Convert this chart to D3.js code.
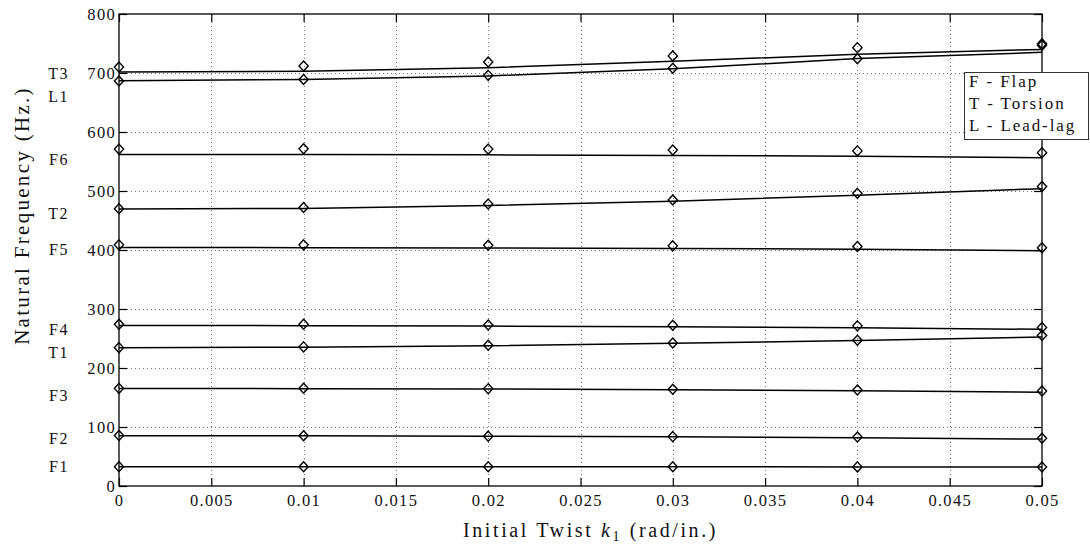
<!DOCTYPE html>
<html>
<head>
<meta charset="utf-8">
<script src="https://cdn.jsdelivr.net/npm/d3@7"></script>
<style>
  body { margin: 0; background: #fff; }
  svg text { font-family: "Liberation Serif", "DejaVu Serif", serif; fill: #111; }
</style>
</head>
<body>
<svg id="chart" width="1090" height="546"></svg>
<script>
// Initial twist values (rad/in.)
const twist = [0, 0.01, 0.02, 0.03, 0.04, 0.05];

// Axis ticks
const xTicks = [0, 0.005, 0.01, 0.015, 0.02, 0.025, 0.03, 0.035, 0.04, 0.045, 0.05];
const xTickLabels = ["0", "0.005", "0.01", "0.015", "0.02", "0.025", "0.03", "0.035", "0.04", "0.045", "0.05"];
const yTicks = [0, 100, 200, 300, 400, 500, 600, 700, 800];
const yTickLabels = ["0", "100", "200", "300", "400", "500", "600", "700", "800"];

// Natural frequencies (Hz) - diamonds
const pointsF1 = [32.6, 32.6, 32.5, 32.5, 32.4, 32.3];
const pointsF2 = [85.5, 85.3, 84.5, 83.7, 83.0, 81.0];
const pointsT1 = [234.5, 235.8, 238.6, 242.3, 247.0, 255.0];
const pointsF3 = [165.5, 165.6, 165.0, 164.0, 162.8, 161.0];
const pointsF4 = [274.2, 274.2, 273.0, 272.3, 271.4, 268.6];
const pointsF5 = [408.7, 408.7, 408.2, 407.0, 406.0, 403.8];
const pointsT2 = [469.8, 472.0, 477.8, 484.8, 496.0, 507.6];
const pointsF6 = [571.0, 571.6, 571.0, 569.5, 568.0, 565.0];
const pointsL1 = [686.6, 689.0, 696.0, 708.0, 724.0, 747.0];
const pointsT3 = [710.0, 712.0, 718.6, 729.0, 743.0, 749.5];

// Natural frequencies (Hz) - solid curves
const curveF1 = [32.6, 32.6, 32.5, 32.5, 32.4, 32.3];
const curveF2 = [85.3, 85.0, 84.3, 83.3, 81.8, 79.5];
const curveT1 = [234.3, 235.3, 237.8, 241.8, 246.4, 252.6];
const curveF3 = [165.4, 165.0, 164.4, 163.3, 161.4, 159.0];
const curveF4 = [272.0, 271.8, 271.0, 270.0, 268.3, 265.5];
const curveF5 = [404.3, 404.0, 403.5, 402.5, 401.3, 398.7];
const curveT2 = [469.3, 470.5, 475.4, 482.5, 493.0, 504.0];
const curveF6 = [562.0, 561.8, 561.3, 560.3, 559.0, 556.3];
const curveL1 = [687.0, 689.0, 695.0, 707.0, 724.5, 735.0];
const curveT3 = [701.7, 703.0, 709.0, 720.0, 731.6, 740.0];

// Mode names beside the y axis and the frequency each one sits at
const modeNames = ["T3", "L1", "F6", "T2", "F5", "F4", "T1", "F3", "F2", "F1"];
const modeNameFreq = [699, 660.6, 553.8, 462.2, 401, 265.5, 227, 153.5, 81.2, 32.6];

// Legend entries
const legendLines = ["F - Flap", "T - Torsion", "L - Lead-lag"];

const pointSets = [pointsF1, pointsF2, pointsT1, pointsF3, pointsF4, pointsF5, pointsT2, pointsF6, pointsL1, pointsT3];
const curveSets = [curveF1, curveF2, curveT1, curveF3, curveF4, curveF5, curveT2, curveF6, curveL1, curveT3];

const svg = d3.select("#chart");
const plot = { left: 119, right: 1042, top: 14, bottom: 486 };

const x = d3.scaleLinear().domain([0, 0.05]).range([plot.left, plot.right]);
const y = d3.scaleLinear().domain([0, 800]).range([plot.bottom, plot.top]);

// Dotted grid
const grid = svg.append("g").attr("stroke", "#777").attr("stroke-width", 1).attr("stroke-dasharray", "1 3");
grid.selectAll("line.gx").data(xTicks.slice(1, -1)).join("line")
  .attr("x1", d => Math.round(x(d)) + 0.5).attr("x2", d => Math.round(x(d)) + 0.5)
  .attr("y1", plot.top).attr("y2", plot.bottom);
grid.selectAll("line.gy").data(yTicks.slice(1, -1)).join("line")
  .attr("y1", d => Math.round(y(d)) + 0.5).attr("y2", d => Math.round(y(d)) + 0.5)
  .attr("x1", plot.left).attr("x2", plot.right);

// Axes with inward ticks on all four sides
const fmtX = d => xTickLabels[xTicks.indexOf(d)];
const fmtY = d => yTickLabels[yTicks.indexOf(d)];

const axB = svg.append("g").attr("transform", `translate(0,${plot.bottom})`)
  .call(d3.axisBottom(x).tickValues(xTicks).tickFormat(fmtX).tickSize(-8).tickSizeOuter(0).tickPadding(8));
const axL = svg.append("g").attr("transform", `translate(${plot.left},0)`)
  .call(d3.axisLeft(y).tickValues(yTicks).tickFormat(fmtY).tickSize(-8).tickSizeOuter(0).tickPadding(3));
const axT = svg.append("g").attr("transform", `translate(0,${plot.top})`)
  .call(d3.axisTop(x).tickValues(xTicks).tickFormat("").tickSize(-8).tickSizeOuter(0));
const axR = svg.append("g").attr("transform", `translate(${plot.right},0)`)
  .call(d3.axisRight(y).tickValues(yTicks).tickFormat("").tickSize(-8).tickSizeOuter(0));

[axB, axL, axT, axR].forEach(a => {
  a.select(".domain").remove();
  a.selectAll(".tick line").attr("stroke", "#000").attr("stroke-width", 1.2);
  a.selectAll(".tick text")
    .attr("font-family", "Liberation Serif, DejaVu Serif, serif")
    .attr("font-size", 16.5)
    .attr("letter-spacing", "1.3px")
    .attr("fill", "#111");
});
axL.selectAll(".tick text").attr("dy", "0.36em");

// Plot frame
svg.append("rect")
  .attr("x", plot.left).attr("y", plot.top)
  .attr("width", plot.right - plot.left).attr("height", plot.bottom - plot.top)
  .attr("fill", "none").attr("stroke", "#000").attr("stroke-width", 1.3);

// Solid curves
const line = d3.line().x((d, i) => x(twist[i])).y(d => y(d));
svg.append("g").selectAll("path").data(curveSets).join("path")
  .attr("d", line)
  .attr("fill", "none").attr("stroke", "#000").attr("stroke-width", 1.5);

// Diamond markers
const diamond = {
  draw(ctx, size) {
    const r = Math.sqrt(size / 2);
    ctx.moveTo(0, -r * 1.04);
    ctx.lineTo(r * 0.96, 0);
    ctx.lineTo(0, r * 1.04);
    ctx.lineTo(-r * 0.96, 0);
    ctx.closePath();
  }
};
const sym = d3.symbol().type(diamond).size(46);
const marks = svg.append("g");
pointSets.forEach(set => {
  marks.append("g").selectAll("path").data(set).join("path")
    .attr("transform", (d, i) => `translate(${x(twist[i])},${y(d)})`)
    .attr("d", sym)
    .attr("fill", "none").attr("stroke", "#000").attr("stroke-width", 1.4);
});

// Mode names
svg.append("g").selectAll("text").data(modeNames).join("text")
  .attr("x", x(0) - 50)
  .attr("y", (d, i) => y(modeNameFreq[i]))
  .attr("dy", "0.34em")
  .attr("text-anchor", "end")
  .attr("font-size", 16)
  .attr("letter-spacing", "1.5px")
  .text(d => d);

// Legend
const legend = svg.append("g");
legend.append("rect")
  .attr("x", 964.5).attr("y", 72.5).attr("width", 124).attr("height", 67)
  .attr("fill", "#fff").attr("stroke", "#333").attr("stroke-width", 1);
legend.selectAll("text").data(legendLines).join("text")
  .attr("x", 969).attr("y", (d, i) => 87 + i * 22)
  .attr("font-size", 17)
  .attr("letter-spacing", "1.9px")
  .text(d => d);

// Axis titles
const xTitle = svg.append("text")
  .attr("x", 590.5).attr("y", 536.5)
  .attr("text-anchor", "middle")
  .attr("font-size", 20)
  .attr("letter-spacing", "2.6px");
xTitle.append("tspan").text("Initial Twist ");
xTitle.append("tspan").attr("font-style", "italic").text("k");
xTitle.append("tspan").attr("font-size", 14).attr("dy", 4).text("1");
xTitle.append("tspan").attr("dy", -4).text(" (rad/in.)");

svg.append("text")
  .attr("transform", "translate(28.5,215.5) rotate(-90)")
  .attr("text-anchor", "middle")
  .attr("font-size", 21)
  .attr("letter-spacing", "2.3px")
  .text("Natural Frequency (Hz.)");
</script>
</body>
</html>
